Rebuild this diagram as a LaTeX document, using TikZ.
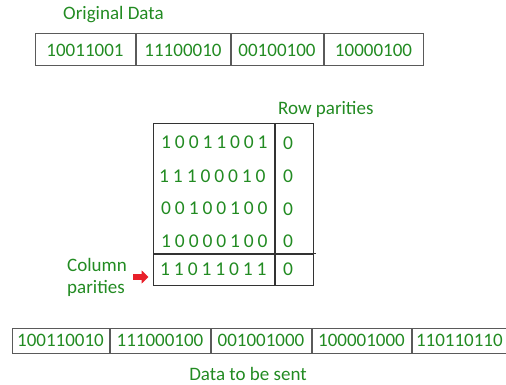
\documentclass[tikz,border=0pt]{standalone}
\usepackage{fontspec}
\setmainfont{Carlito}
\usepackage{tikz}
\usetikzlibrary{positioning,arrows.meta}

\definecolor{textgreen}{RGB}{34,139,34}
\definecolor{boxgray}{RGB}{90,90,90}
\definecolor{arrowred}{RGB}{232,32,42}

\tikzset{
  lbl/.style={text=textgreen,font=\fontsize{19}{21}\selectfont,inner sep=0pt},
  cell/.style={draw=boxgray,line width=1pt,text=textgreen,
    font=\fontsize{19}{21}\selectfont,inner sep=0pt},
  spaced/.style={text=textgreen,inner sep=0pt,
    font=\fontsize{19.5}{21}\selectfont\addfontfeature{LetterSpace=20}},
  gridbox/.style={draw=black!80,line width=1pt,inner sep=0pt}
}

\begin{document}
\begin{tikzpicture}[x=1pt,y=-1pt]
\useasboundingbox (0,0) rectangle (506,385);

% original data
\node[lbl,anchor=west] (orig) at (63,15) {Original Data};
\node[cell,minimum width=100pt,minimum height=32pt] (od1) at (85,50) {10011001};
\node[cell,minimum width=94pt,minimum height=32pt,right=0pt of od1] (od2) {11100010};
\node[cell,minimum width=92pt,minimum height=32pt,right=0pt of od2] (od3) {00100100};
\node[cell,minimum width=99pt,minimum height=32pt,right=0pt of od3] (od4) {10000100};

% matrix frame
\node[gridbox,minimum width=121pt,minimum height=129pt] (datablk) at (213.5,188.5) {};
\node[gridbox,minimum width=38pt,minimum height=129pt,right=0pt of datablk] (parblk) {};
\node[gridbox,minimum width=121pt,minimum height=31pt,below=0pt of datablk] (colrow) {};
\node[gridbox,minimum width=38pt,minimum height=31pt,right=0pt of colrow] (colpar) {};
\draw[black!80,line width=1pt] (colpar.north east) -- ++(2,0);

% rows
\node[spaced,anchor=west] (r1) at (161,142) {10011001};
\node[spaced,anchor=west] (r2) at (159,176) {11100010};
\node[spaced,anchor=west] (r3) at (161,208) {00100100};
\node[spaced,anchor=west] (r4) at (161,241) {10000100};
\node[spaced,anchor=west] (r5) at (160,269) {11011011};

% parities
\node[spaced,anchor=west] (p1) at (283,143) {0};
\node[spaced,anchor=west] (p2) at (283,176) {0};
\node[spaced,anchor=west] (p3) at (283,209) {0};
\node[spaced,anchor=west] (p4) at (283,241) {0};
\node[spaced,anchor=west] (p5) at (283,269) {0};

% labels
\node[lbl,anchor=west] (rowpar) at (278,109) {Row parities};
\node[lbl,anchor=west] (colword) at (67,265) {Column};
\node[lbl,anchor=west] (parword) at (67,288) {parities};

% red arrow
\coordinate (arrtail) at (133,277);
\draw[arrowred,line width=6pt,-{Triangle[length=7pt,width=13pt]},shorten >=4pt]
  (arrtail) -- (arrtail -| colrow.west);

% data to be sent
\node[cell,minimum width=97pt,minimum height=25pt] (s1) at (60.5,340.5) {100110010};
\node[cell,minimum width=100pt,minimum height=25pt,right=0pt of s1] (s2) {111000100};
\node[cell,minimum width=100pt,minimum height=25pt,right=0pt of s2] (s3) {001001000};
\node[cell,minimum width=99pt,minimum height=25pt,right=0pt of s3] (s4) {100001000};
\node[cell,minimum height=25pt,inner xsep=4pt,text width=94pt,align=left,
  right=0pt of s4] (s5) {110110110};
\node[lbl] (sent) at (248,374) {Data to be sent};
\end{tikzpicture}
\end{document}
